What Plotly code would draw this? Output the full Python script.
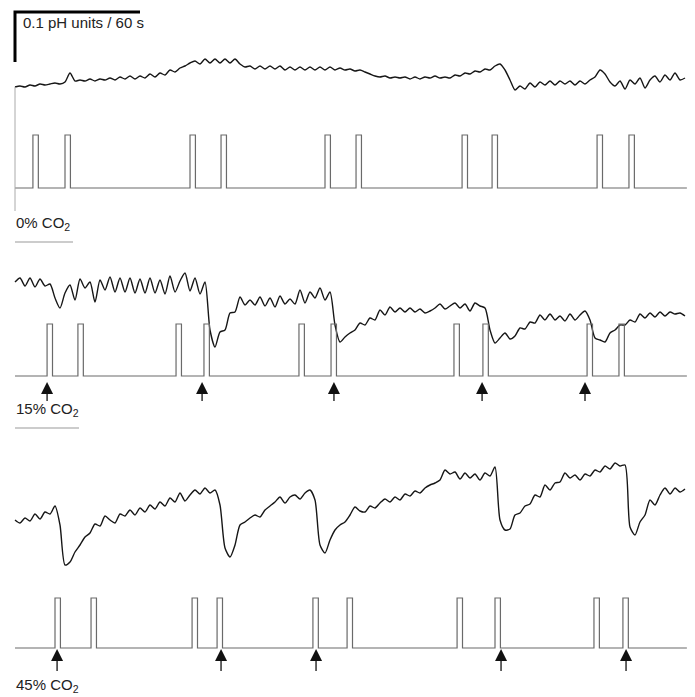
import numpy as np
import plotly.graph_objects as go

# ---------------- data ----------------
DT = 2.4  # s between samples of the pH traces
# pH traces: change in pH (milli-pH units) relative to each panel's reference level
ph_0 = [10, 12, 10, 14, 12, 16, 14, 16, 18, 16,
        20, 38, 22, 24, 22, 26, 22, 26, 24, 28,
        24, 30, 26, 32, 26, 32, 28, 36, 30, 38,
        34, 44, 40, 48, 52, 58, 62, 56, 66, 58,
        66, 58, 66, 58, 66, 56, 50, 52, 46, 52,
        46, 52, 46, 52, 44, 50, 44, 50, 44, 50,
        44, 50, 44, 50, 44, 48, 44, 46, 42, 44,
        40, 36, 32, 30, 32, 28, 30, 28, 30, 26,
        30, 26, 30, 28, 32, 28, 30, 28, 34, 32,
        38, 36, 42, 40, 46, 44, 52, 56, 44, 24,
        4, 12, 6, 18, 10, 20, 14, 22, 14, 22,
        16, 22, 14, 22, 16, 24, 30, 44, 36, 20,
        12, 22, 6, 24, 16, 28, 8, 24, 32, 20,
        34, 24, 38, 24, 28]
ph_15 = [136, 144, 128, 144, 126, 142, 128, 132, 104, 84,
         114, 130, 100, 142, 124, 136, 96, 140, 120, 146,
         116, 144, 116, 144, 114, 142, 114, 144, 114, 140,
         112, 148, 116, 138, 154, 118, 144, 112, 136, 40,
         6, 36, 40, 74, 76, 106, 90, 100, 90, 106,
         88, 104, 86, 108, 92, 102, 92, 120, 94, 116,
         104, 124, 100, 116, 50, 16, 26, 34, 40, 54,
         50, 64, 60, 80, 70, 86, 76, 84, 76, 84,
         76, 82, 74, 78, 84, 92, 82, 88, 94, 84,
         92, 78, 94, 88, 84, 40, 14, 24, 34, 22,
         28, 44, 42, 56, 54, 70, 60, 72, 60, 68,
         58, 72, 60, 70, 78, 60, 24, 20, 16, 34,
         40, 50, 50, 60, 56, 72, 64, 74, 66, 76,
         68, 76, 72, 74, 68]
ph_45 = [100, 94, 104, 98, 112, 102, 116, 112, 128, 90,
         10, 16, 36, 50, 66, 74, 92, 88, 108, 100,
         94, 112, 108, 120, 110, 124, 116, 130, 122, 136,
         128, 144, 136, 154, 138, 150, 160, 152, 164, 154,
         160, 130, 44, 26, 50, 90, 96, 104, 110, 106,
         120, 128, 136, 146, 134, 146, 150, 142, 154, 160,
         140, 50, 34, 60, 80, 90, 96, 110, 126, 118,
         116, 128, 124, 134, 142, 136, 146, 140, 152, 148,
         158, 154, 164, 170, 174, 180, 200, 192, 196, 182,
         194, 184, 192, 180, 194, 188, 206, 100, 80, 82,
         110, 114, 128, 132, 150, 146, 170, 160, 174, 176,
         194, 184, 190, 180, 192, 188, 200, 196, 208, 202,
         214, 208, 210, 86, 70, 96, 110, 140, 130, 150,
         164, 152, 164, 156, 162]

# ventilation / stimulus pulses: onset times (s)
pulse_on_0 = [8.6, 24.0, 84.0, 98.9, 148.8, 163.7, 214.6, 229.0, 279.4, 294.7]
pulse_on_15 = [15.4, 30.2, 77.3, 90.7, 136.3, 151.7, 210.7, 224.6, 274.6, 289.9]
pulse_on_45 = [19.2, 36.5, 85.0, 97.0, 143.0, 159.4, 212.2, 230.4, 277.9, 291.8]
PULSE_W = 2.6   # s
T_END = 322.5   # s

# CO2 application marks (s)
arrows_15 = [15.4, 89.8, 153.1, 224.2, 273.6]
arrows_45 = [20.2, 98.9, 144.5, 233.3, 293.3]

SCALE_PH = 0.1   # pH
SCALE_S = 60     # s
labels = ["0% CO<sub>2</sub>", "15% CO<sub>2</sub>", "45% CO<sub>2</sub>"]

# ---------------- geometry ----------------
W, H = 695, 697
PX_PER_S = 125 / 60.0
X0 = 15
PX_PER_MPH = 0.5

def yr(base_px, scale):
    return [(base_px - H) / scale, base_px / scale]

def pu(base_px, scale, px):
    return (base_px - px) / scale

ph_ref = [92, 350, 570]
p_base = [188, 376, 648]
p_top = [135, 324, 598]

FONT = "Liberation Sans, Arial, Helvetica, sans-serif"
fig = go.Figure()

ph_sets = [ph_0, ph_15, ph_45]
pulse_sets = [pulse_on_0, pulse_on_15, pulse_on_45]
for k in range(3):
    ya_ph = "y" if k == 0 else f"y{2*k+1}"
    ya_p = f"y{2*k+2}"
    vals = ph_sets[k]
    t = np.arange(len(vals)) * DT
    fig.add_trace(go.Scatter(x=t, y=vals, mode="lines", yaxis=ya_ph,
                             line=dict(color="#161616", width=1.4, shape="spline",
                                       smoothing=0.7),
                             hoverinfo="skip"))
    xs, ys = [0.0], [0.0]
    for on in pulse_sets[k]:
        xs += [on, on, on + PULSE_W, on + PULSE_W]
        ys += [0, 1, 1, 0]
    xs.append(T_END)
    ys.append(0)
    fig.add_trace(go.Scatter(x=xs, y=ys, mode="lines", yaxis=ya_p,
                             line=dict(color="#6a6a6a", width=1.2),
                             hoverinfo="skip"))

# arrows
arrow_specs = [(arrows_15, 1, 382, 401), (arrows_45, 2, 649, 671)]
for arr, k, tip_px, bot_px in arrow_specs:
    b, s = p_base[k], p_base[k] - p_top[k]
    ya_p = f"y{2*k+2}"
    sx, sy = [], []
    for a in arr:
        sx += [a, a, None]
        sy += [pu(b, s, tip_px + 6), pu(b, s, bot_px), None]
    fig.add_trace(go.Scatter(x=sx, y=sy, mode="lines", yaxis=ya_p,
                             line=dict(color="#111", width=1.3), hoverinfo="skip"))
    fig.add_trace(go.Scatter(x=arr, y=[pu(b, s, tip_px)] * len(arr), mode="markers",
                             yaxis=ya_p, hoverinfo="skip",
                             marker=dict(symbol="arrow-up", size=12, color="#111",
                                         line=dict(width=0))))

# scale bar (on panel-1 pH axis)
top_v = (ph_ref[0] - 12) / PX_PER_MPH
fig.add_trace(go.Scatter(x=[0, 0, SCALE_S], y=[top_v - SCALE_PH * 1000, top_v, top_v],
                         mode="lines", yaxis="y",
                         line=dict(color="#000", width=3), hoverinfo="skip"))

def px(x):
    return x / W

def py(y):
    return 1 - y / H

ann = [dict(text=f"{SCALE_PH} pH units / {SCALE_S} s", x=px(21), y=py(22))]
label_y = [224, 409, 685]
for lab, ly in zip(labels, label_y):
    ann.append(dict(text=lab, x=px(14), y=py(ly)))
annotations = [dict(a, xref="paper", yref="paper", xanchor="left", yanchor="middle",
                    showarrow=False, font=dict(family=FONT, size=15, color="#222"))
               for a in ann]

shapes = [
    dict(type="line", xref="x", yref="paper", x0=0, x1=0, y0=py(211), y1=py(87),
         line=dict(color="#aaaaaa", width=1)),
    dict(type="line", xref="paper", yref="paper", x0=px(15), x1=px(73), y0=py(242), y1=py(242),
         line=dict(color="#999999", width=1)),
    dict(type="line", xref="paper", yref="paper", x0=px(15), x1=px(79), y0=py(428), y1=py(428),
         line=dict(color="#999999", width=1)),
]

layout = dict(
    width=W, height=H, autosize=False,
    margin=dict(l=0, r=0, t=0, b=0, pad=0),
    paper_bgcolor="white", plot_bgcolor="white",
    showlegend=False,
    xaxis=dict(range=[-X0 / PX_PER_S, (W - X0) / PX_PER_S], visible=False, fixedrange=True),
    annotations=annotations, shapes=shapes,
)
for k in range(3):
    n_ph = 2 * k + 1
    n_p = 2 * k + 2
    key_ph = "yaxis" if k == 0 else f"yaxis{n_ph}"
    d_ph = dict(range=yr(ph_ref[k], PX_PER_MPH), visible=False, fixedrange=True, domain=[0, 1])
    if k > 0:
        d_ph.update(overlaying="y", anchor="x")
    layout[key_ph] = d_ph
    layout[f"yaxis{n_p}"] = dict(range=yr(p_base[k], p_base[k] - p_top[k]), visible=False,
                                 fixedrange=True, domain=[0, 1], overlaying="y", anchor="x")

fig.update_layout(**layout)
fig.write_html("out.html", config={"displayModeBar": False, "staticPlot": True},
               post_script="document.body.style.margin='0';document.body.style.overflow='hidden';")
